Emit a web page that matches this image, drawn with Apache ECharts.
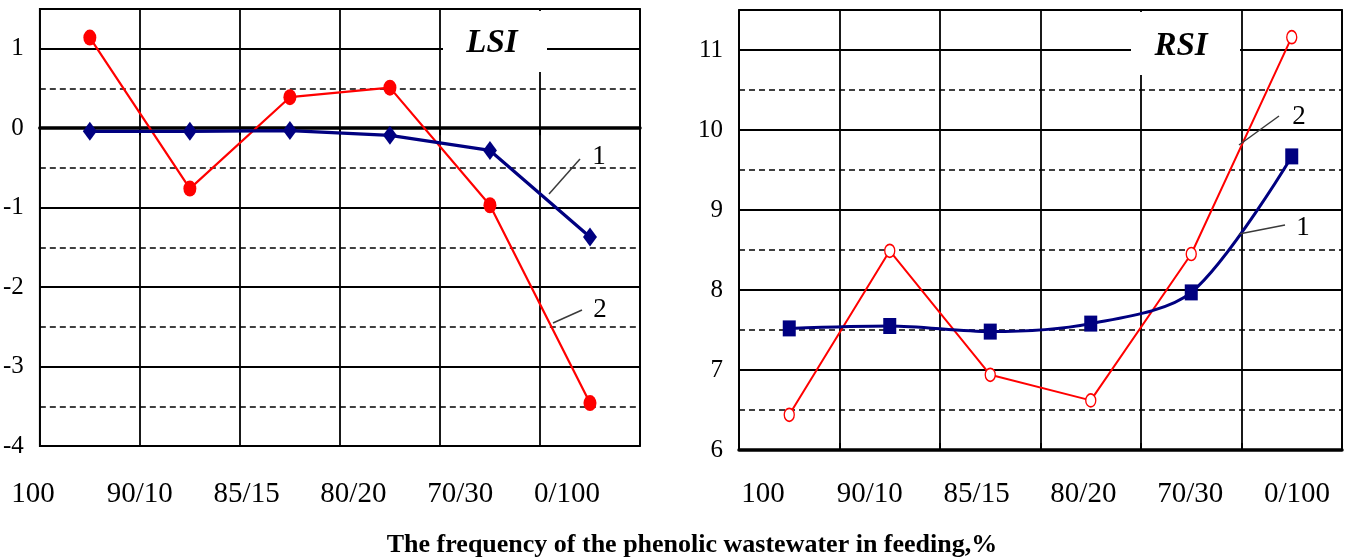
<!DOCTYPE html>
<html>
<head>
<meta charset="utf-8">
<script src="https://cdn.jsdelivr.net/npm/echarts@6/dist/echarts.min.js"></script>
<style>
  html, body { margin: 0; padding: 0; background: #fff; }
  #chart { width: 1347px; height: 560px; }
</style>
</head>
<body>
<div id="chart"></div>
<script>
// Feed composition (phenolic wastewater share) on the horizontal axis
const categories = ['100', '90/10', '85/15', '80/20', '70/30', '0/100'];

// Langelier saturation index, curves 1 and 2
const lsiCurve1 = [-0.04, -0.04, -0.03, -0.09, -0.28, -1.37];
const lsiCurve2 = [1.14, -0.76, 0.39, 0.51, -0.97, -3.46];

// Ryznar stability index, curves 1 and 2
const rsiCurve1 = [7.52, 7.55, 7.48, 7.58, 7.97, 9.67];
const rsiCurve2 = [6.44, 8.49, 6.94, 6.62, 8.45, 11.16];

// Value-axis ranges
const lsiRange = [-4, 1.5];
const rsiRange = [6, 11.5];

const axisTitle = 'The frequency of the phenolic wastewater in feeding,%';

const SERIF = '"Liberation Serif", "Times New Roman", serif';
const RED = '#ff0000';
const NAVY = '#000080';

function plotXAxis(gridIndex, tickInside) {
  return {
    gridIndex: gridIndex,
    type: 'category',
    data: categories,
    boundaryGap: true,
    axisLine: { show: true, onZero: true, lineStyle: { color: '#000', width: 3.5 } },
    axisTick: { show: true, inside: tickInside, length: 7, lineStyle: { color: '#000', width: 2 } },
    axisLabel: { show: false },
    splitLine: { show: true, lineStyle: { color: '#000', width: 1.8 } }
  };
}

function labelXAxis(gridIndex) {
  return {
    gridIndex: gridIndex,
    type: 'category',
    data: categories,
    boundaryGap: false,
    axisLine: { show: false },
    axisTick: { show: false },
    splitLine: { show: false },
    axisLabel: { color: '#000', fontFamily: SERIF, fontSize: 29, margin: 8 }
  };
}

// Half-unit dashed lines carrying the integer labels
function dashedYAxis(gridIndex, range) {
  return {
    gridIndex: gridIndex,
    type: 'value',
    min: range[0], max: range[1], interval: 0.5,
    axisLine: { show: false },
    axisTick: { show: false },
    axisLabel: {
      color: '#000', fontFamily: SERIF, fontSize: 25, margin: 16,
      formatter: v => (Number.isInteger(v) ? String(v) : '')
    },
    splitLine: { show: true, lineStyle: { color: '#000', width: 1.7, type: [6, 4] } }
  };
}

// Whole-unit solid lines
function solidYAxis(gridIndex, range) {
  return {
    gridIndex: gridIndex,
    type: 'value',
    min: range[0], max: range[1], interval: 1,
    axisLine: { show: false },
    axisTick: { show: false },
    axisLabel: { show: false },
    splitLine: { show: true, lineStyle: { color: '#000', width: 1.8 } }
  };
}

function hiddenYAxis(gridIndex) {
  return { gridIndex: gridIndex, type: 'value', show: false };
}

function leader(x1, y1, x2, y2) {
  return {
    type: 'line', z: 100,
    shape: { x1: x1, y1: y1, x2: x2, y2: y2 },
    style: { stroke: '#3a3a3a', lineWidth: 1.5 }
  };
}

function curveTag(text, x, y) {
  return {
    type: 'text', z: 100, x: x, y: y,
    style: { text: text, fill: '#000', font: '27px ' + SERIF, align: 'center', verticalAlign: 'middle' }
  };
}

function indexBadge(text, x, y, w, h, tx, ty) {
  return [
    { type: 'rect', z: 90, shape: { x: x, y: y, width: w, height: h }, style: { fill: '#fff' } },
    {
      type: 'text', z: 100, x: tx, y: ty,
      style: { text: text, fill: '#000', font: 'italic bold 33px ' + SERIF, align: 'center', verticalAlign: 'middle' }
    }
  ];
}

const chart = echarts.init(document.getElementById('chart'), null, { renderer: 'canvas' });

chart.setOption({
  animation: false,
  backgroundColor: '#fff',
  grid: [
    { left: 39, top: 9, width: 601, height: 437, show: true, borderColor: '#000', borderWidth: 1.8 },
    { left: 739, top: 10, width: 603, height: 440, show: true, borderColor: '#000', borderWidth: 1.8 },
    { left: 33, top: 471, width: 534, height: 1 },
    { left: 763, top: 471, width: 534, height: 1 }
  ],
  xAxis: [
    plotXAxis(0, false),
    plotXAxis(1, true),
    labelXAxis(2),
    labelXAxis(3)
  ],
  yAxis: [
    dashedYAxis(0, lsiRange),
    solidYAxis(0, lsiRange),
    dashedYAxis(1, rsiRange),
    solidYAxis(1, rsiRange),
    hiddenYAxis(2),
    hiddenYAxis(3)
  ],
  series: [
    {
      name: 'LSI 2', type: 'line', xAxisIndex: 0, yAxisIndex: 0,
      data: lsiCurve2,
      symbol: 'circle', symbolSize: [13, 16],
      itemStyle: { color: RED },
      lineStyle: { color: RED, width: 2.2 }
    },
    {
      name: 'LSI 1', type: 'line', xAxisIndex: 0, yAxisIndex: 0,
      data: lsiCurve1,
      symbol: 'diamond', symbolSize: [14, 19],
      itemStyle: { color: NAVY },
      lineStyle: { color: NAVY, width: 3.2 }
    },
    {
      name: 'RSI 2', type: 'line', xAxisIndex: 1, yAxisIndex: 2,
      data: rsiCurve2,
      symbol: 'circle', symbolSize: [10, 13],
      itemStyle: { color: '#fff', borderColor: RED, borderWidth: 1.5 },
      lineStyle: { color: RED, width: 2 }
    },
    {
      name: 'RSI 1', type: 'line', xAxisIndex: 1, yAxisIndex: 2,
      data: rsiCurve1,
      smooth: 0.3,
      symbol: 'rect', symbolSize: [13, 16],
      itemStyle: { color: NAVY },
      lineStyle: { color: NAVY, width: 3 }
    }
  ],
  graphic: [
    ...indexBadge('LSI', 443, 11, 104, 61, 492, 43),
    ...indexBadge('RSI', 1131, 12, 109, 63, 1181, 46),
    leader(580, 159, 549, 194),
    curveTag('1', 599, 157),
    leader(582, 310, 553, 323),
    curveTag('2', 600, 310),
    leader(1279, 116, 1239, 145),
    curveTag('2', 1299, 117),
    leader(1285, 225, 1239, 234),
    curveTag('1', 1303, 228),
    {
      type: 'text', z: 100, x: 692, y: 545,
      style: { text: axisTitle, fill: '#000', font: 'bold 26px ' + SERIF, align: 'center', verticalAlign: 'middle' }
    }
  ]
});
</script>
</body>
</html>
